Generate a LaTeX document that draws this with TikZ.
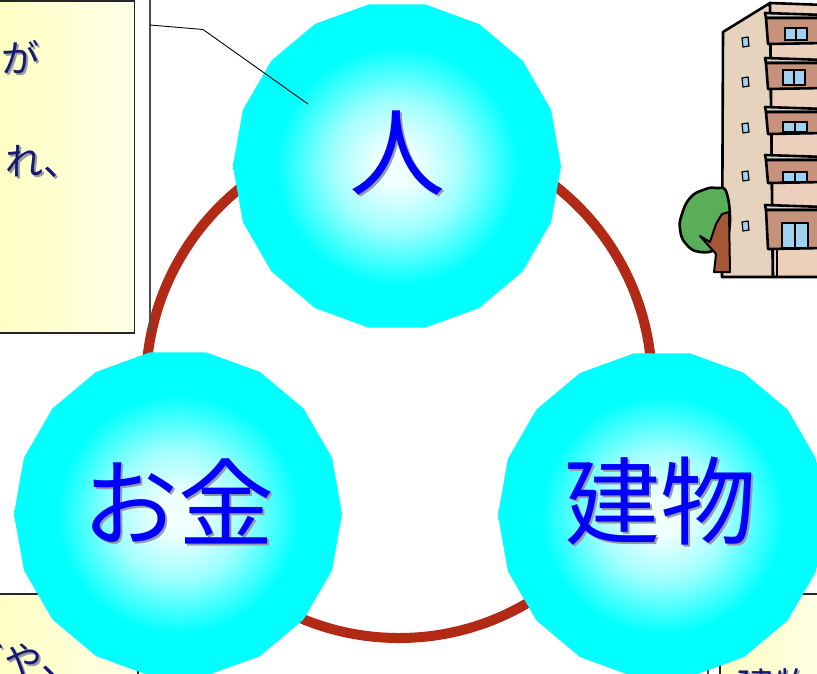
\documentclass[tikz,border=0pt]{standalone}
\usepackage{fontspec}
\newfontfamily\jpfont{Noto Sans CJK JP}
\usetikzlibrary{shapes.geometric}

\definecolor{ringred}{RGB}{178,42,22}
\definecolor{labelblue}{RGB}{0,0,255}
\definecolor{notenavy}{RGB}{24,24,112}
\definecolor{textshadow}{RGB}{150,155,165}
\definecolor{noteleft}{RGB}{255,255,192}
\definecolor{noteright}{RGB}{255,255,232}
\definecolor{sidewall}{RGB}{230,211,190}
\definecolor{frontwall}{RGB}{236,208,188}
\definecolor{balcony}{RGB}{198,146,124}
\definecolor{slab}{RGB}{218,218,218}
\definecolor{glass}{RGB}{160,210,240}
\definecolor{leaf}{RGB}{90,174,90}
\definecolor{bark}{RGB}{165,88,55}
\definecolor{ballcore}{RGB}{240,255,255}
\definecolor{ballpale}{RGB}{160,255,255}
\definecolor{ballrim}{RGB}{0,255,255}

% the path fills the middle 50bp, so its rim sits at 25bp
\pgfdeclareradialshading{ballshade}{\pgfpoint{0bp}{0bp}}{%
  color(0bp)=(ballcore); color(3bp)=(ballcore);
  color(10bp)=(ballpale); color(18.5bp)=(ballrim); color(50bp)=(ballrim)}

\newcommand{\withshadow}[2]{%
  \makebox[0pt][l]{\kern#1\raisebox{-#1}[0pt][0pt]{\textcolor{textshadow}{#2}}}#2}

\begin{document}
\begin{tikzpicture}[x=1pt, y=-1pt,
    ball/.style={regular polygon, regular polygon sides=18, minimum size=328pt,
      inner sep=0pt, shade, shading=ballshade},
    balltext/.style={inner sep=0pt, text=labelblue,
      font=\jpfont\fontsize{96}{100}\selectfont},
    note/.style={draw=black!85, line width=1.2pt, left color=noteleft, right color=noteright},
    notetext/.style={inner sep=0pt, text=notenavy,
      font=\jpfont\fontsize{38}{40}\selectfont},
    frame/.style={draw=black!70, line width=1.5pt},
    outline/.style={draw=black, line width=2.6pt, line join=round},
    window/.style={draw=black, line width=1.6pt, fill=glass}]
    \useasboundingbox (0,0) rectangle (817,673);

    \coordinate (hub) at (399,385);
    \draw[ringred, line width=10pt] (hub) circle[radius=253];

    \draw[frame] (150,0) -- (150,333);
    \draw[frame] (156,667) -- (156,690);
    \draw[frame] (708,667) -- (708,690);

    \path[note] (-10,1) rectangle (134.5,333);
    \path[note] (-10,594) rectangle (138,690);
    \path[note] (720,594) rectangle (830,690);

    \node[notetext, anchor=east] (ga) at (40,57.5) {\withshadow{2pt}{が}};
    \node[notetext, anchor=east] (re) at (82,161) {\withshadow{2pt}{れ、}};
    \node[notetext, anchor=east] (ya) at (80,660) {\withshadow{2pt}{ぎや、}};
    \node[notetext, anchor=west] (tate) at (737,686) {\withshadow{2pt}{建物}};

    \node[ball] (hito) at (397,166) {};
    \node[ball] (okane) at (178,514) {};
    \node[ball] (tatemono) at (662,515) {};
    \node[balltext] (hitolabel) at ([yshift=13pt]hito.center) {\withshadow{2.5pt}{人}};
    \node[balltext] (okanelabel) at ([yshift=13pt]okane.center) {\withshadow{2.5pt}{お金}};
    \node[balltext] (tatemonolabel) at ([xshift=-2pt,yshift=14pt]tatemono.center) {\withshadow{2.5pt}{建物}};

    \coordinate (callout) at (150,25);
    \coordinate (bend) at (203,29.5);
    \coordinate (tip) at (308,104);
    \draw[line width=0.9pt] (callout) -- (bend) -- (tip);

    % apartment block
    \path[outline, fill=sidewall] (723,32) -- (770,3) -- (773,277) -- (722,277) -- cycle;
    \path[outline, fill=frontwall] (770,3) -- (825,5) -- (825,277) -- (773,277) -- cycle;
    \foreach \s/\t/\b in {13/18/43, 58/63/88, 107/112/133, 155/160/182, 205/210/248} {
      \path[outline, fill=slab] (765,\s) -- (825,\s+2) -- (825,\t) -- (766,\t) -- cycle;
      \path[outline, fill=balcony] (766,\t) -- (825,\t) -- (825,\b) -- (768,\b+1) -- cycle;
    }
    \foreach \x/\y/\w/\h in {785/28/22/12, 783/70/22/15, 783/122/24/10, 783/172/24/10, 782/223/26/25} {
      \path[window] (\x,\y) rectangle ++(\w,\h);
      \draw[line width=1.2pt] (\x+\w/2,\y) -- ++(0,\h);
    }
    \foreach \y in {38,78,124,172,222}
      \path[window, line width=1.2pt] (742,\y) -- (748,\y-1) -- (749,\y+8) -- (743,\y+9) -- cycle;
    \draw[line width=1.6pt] (777,248) -- (777,277);

    % tree
    \path[outline, fill=leaf] plot[smooth cycle, tension=0.8] coordinates
      {(682,214) (690,198) (703,190) (716,188) (727,194) (729,232) (718,248) (700,252) (686,244) (680,229)};
    \path[outline, fill=bark, line width=2pt] (700,236) -- (710,242) -- (716,224) -- (722,214)
      -- (729,212) -- (730,272) -- (714,272) -- (716,254) -- cycle;
\end{tikzpicture}
\end{document}
